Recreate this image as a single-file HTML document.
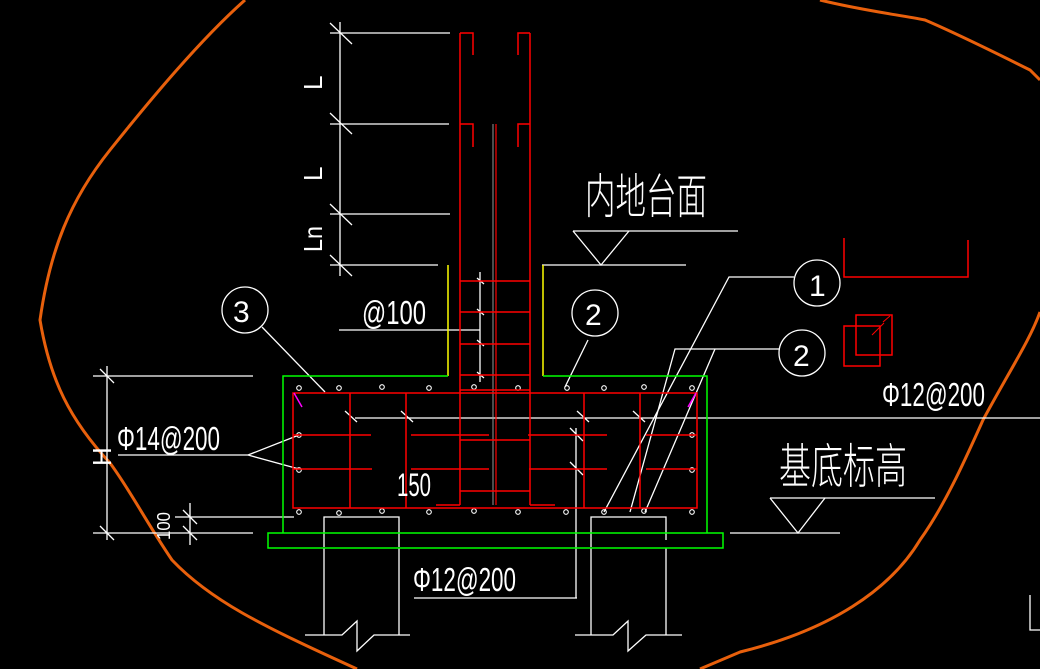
<!DOCTYPE html>
<html><head><style>html,body{margin:0;padding:0;background:#000;}svg{display:block}</style></head>
<body>
<svg width="1040" height="669" viewBox="0 0 1040 669" xmlns="http://www.w3.org/2000/svg" style="background:#000">
<path d="M245,0 C200,40 150,100 110,150 C70,200 50,250 40,320 C50,380 70,420 110,463 C130,490 145,520 172,560 C210,600 260,625 357,669" fill="none" stroke="#e8600c" stroke-width="3"/>
<path d="M820,0 C860,10 900,15 925,20 C960,35 1000,55 1030,70 L1040,80" fill="none" stroke="#e8600c" stroke-width="3"/>
<path d="M1040,312 C1030,340 1010,370 983,420 C965,460 945,505 920,540 C890,590 830,630 740,652 L700,669" fill="none" stroke="#e8600c" stroke-width="3"/>

<g stroke="#fff" stroke-width="1.3" fill="none">
<line x1="340" y1="22" x2="340" y2="276"/>
<line x1="330" y1="33" x2="450" y2="33"/>
<line x1="330" y1="124" x2="449" y2="124"/>
<line x1="330" y1="214" x2="450" y2="214"/>
<line x1="330" y1="265" x2="438" y2="265"/>
<path d="M330,23 L352,44 M330,113 L352,134 M330,204 L352,225 M330,255 L352,276"/>
<line x1="339" y1="330" x2="480" y2="330"/>
<line x1="480" y1="272" x2="480" y2="382"/>
<path d="M477,278 L484,284 M477,309 L484,315 M477,340 L484,346 M477,372 L484,378"/>
<line x1="573" y1="231" x2="738" y2="231"/>
<path d="M573,231 L601,265 L629,231"/>
<line x1="542" y1="265" x2="686" y2="265"/>
<line x1="770" y1="498" x2="935" y2="498"/>
<path d="M770,498 L798,533 L825,498"/>
<line x1="730" y1="533" x2="840" y2="533"/>
<line x1="355" y1="418" x2="1040" y2="418"/>
<circle cx="817" cy="283" r="23"/>
<circle cx="802" cy="353" r="23"/>
<circle cx="595" cy="313" r="23"/>
<circle cx="245" cy="310" r="23"/>
<path d="M794,277 L729,277 L604,512"/>
<path d="M779,349 L675,349 L630,512"/>
<path d="M715,349 L645,512"/>
<path d="M588,340 L565,387"/>
<path d="M262,327 L325,392"/>
<path d="M345,411 L357,422 M401,411 L413,422 M577,411 L589,422 M633,411 L645,422 M570,428 L583,441 M570,462 L583,475"/>
<line x1="576" y1="428" x2="576" y2="598"/>
<line x1="414" y1="598" x2="577" y2="598"/>
<line x1="107" y1="366" x2="107" y2="540"/>
<line x1="93" y1="376" x2="253" y2="376"/>
<line x1="93" y1="533" x2="253" y2="533"/>
<path d="M100,369 L114,383 M100,526 L114,540"/>
<line x1="190" y1="503" x2="190" y2="545"/>
<line x1="175" y1="517" x2="294" y2="517"/>
<path d="M183,510 L197,524 M183,526 L197,540"/>
<line x1="118" y1="455" x2="248" y2="455"/>
<path d="M248,455 L299,435 M248,455 L299,469"/>
<path d="M324,547 L324,517 L399,517 L399,547"/>
<path d="M324,548 L324,635 M399,548 L399,635"/>
<path d="M305,635 L342,635 L357,621 L357,651 L374,635 L410,635"/>
<path d="M591,547 L591,517 L666,517 L666,540"/>
<path d="M591,548 L591,635 M666,548 L666,635"/>
<path d="M575,635 L613,635 L628,621 L628,651 L646,635 L682,635"/>
<g stroke-width="1.1">
<circle cx="299" cy="388" r="2.3"/><circle cx="339" cy="388" r="2.3"/><circle cx="382" cy="387" r="2.3"/><circle cx="429" cy="388" r="2.3"/><circle cx="474" cy="387" r="2.3"/><circle cx="518" cy="388" r="2.3"/><circle cx="567" cy="388" r="2.3"/><circle cx="604" cy="388" r="2.3"/><circle cx="644" cy="387" r="2.3"/><circle cx="692" cy="388" r="2.3"/>
<circle cx="299" cy="512" r="2.3"/><circle cx="339" cy="513" r="2.3"/><circle cx="382" cy="511" r="2.3"/><circle cx="429" cy="512" r="2.3"/><circle cx="474" cy="511" r="2.3"/><circle cx="518" cy="512" r="2.3"/><circle cx="566" cy="512" r="2.3"/><circle cx="604" cy="512" r="2.3"/><circle cx="644" cy="511" r="2.3"/><circle cx="692" cy="512" r="2.3"/>
<circle cx="299" cy="435" r="2.3"/><circle cx="299" cy="470" r="2.3"/><circle cx="692" cy="435" r="2.3"/><circle cx="692" cy="470" r="2.3"/>
</g>
</g>
<line x1="493" y1="124" x2="493" y2="505" stroke="#999" stroke-width="1"/>

<g stroke="#ff0000" stroke-width="1.5" fill="none">
<line x1="460" y1="33" x2="460" y2="505"/>
<line x1="530" y1="33" x2="530" y2="505"/>
<path d="M460,33 L473,33 L473,55 M530,33 L518,33 L518,55 M460,124 L473,124 L473,147 M530,124 L518,124 L518,147"/>
<line x1="496" y1="124" x2="496" y2="505" stroke-width="1.2"/>
<path d="M460,281 L530,281 M460,312 L530,312 M460,344 L530,344 M460,375 L530,375 M460,390 L530,390 M460,440 L530,440 M460,491 L530,491"/>
<path d="M436,505 L460,505 M530,505 L555,505"/>
<rect x="293" y="393" width="404" height="115"/>
<path d="M350,393 L350,508 M406,393 L406,508 M584,393 L584,508 M640,393 L640,508"/>
<path d="M293,435 L371,435 M411,435 L489,435 M528,435 L607,435 M646,435 L697,435"/>
<path d="M293,469 L372,469 M411,469 L489,469 M529,469 L607,469 M646,469 L697,469"/>
<path d="M844,238 L844,277 L968,277 L968,240"/>
<rect x="844" y="326" width="36" height="40"/>
<rect x="856" y="315" width="36" height="40"/>
<path d="M872,335 L880,327 M876,331 L884,323 M883,322 L890,316" stroke-width="1"/>
</g>
<path d="M294,393 L302,407 M696,393 L688,407" stroke="#ff00ff" stroke-width="1.5"/>
<g stroke="#ffff00" stroke-width="1.5"><line x1="448" y1="265" x2="448" y2="376"/><line x1="543" y1="265" x2="543" y2="376"/></g>
<g stroke="#00ff00" stroke-width="1.5" fill="none">
<path d="M448,376 L283,376 L283,533"/>
<path d="M543,376 L707,376 L707,533"/>
<rect x="268" y="533" width="455" height="15"/>
</g>

<g fill="#fff" font-family="Liberation Sans, 'Noto Sans CJK SC', sans-serif" font-weight="normal">
<text x="0" y="0" font-size="26" transform="translate(322,90) rotate(-90)">L</text>
<text x="0" y="0" font-size="26" transform="translate(322,181) rotate(-90)">L</text>
<text x="0" y="0" font-size="26" transform="translate(322,252) rotate(-90)" textLength="26" lengthAdjust="spacingAndGlyphs">Ln</text>
<text x="0" y="0" font-size="26" transform="translate(111,466) rotate(-90)">H</text>
<text x="0" y="0" font-size="18" transform="translate(170,540) rotate(-90)" textLength="28" lengthAdjust="spacingAndGlyphs">100</text>
<text x="362" y="324" font-size="33" textLength="64" lengthAdjust="spacingAndGlyphs">@100</text>
<text x="117" y="450" font-size="33" textLength="103" lengthAdjust="spacingAndGlyphs">Φ14@200</text>
<text x="397" y="496" font-size="32" textLength="34" lengthAdjust="spacingAndGlyphs">150</text>
<text x="413" y="591" font-size="33" textLength="103" lengthAdjust="spacingAndGlyphs">Φ12@200</text>
<text x="882" y="406" font-size="33" textLength="103" lengthAdjust="spacingAndGlyphs">Φ12@200</text>
<text x="233" y="322" font-size="30">3</text>
<text x="585" y="325" font-size="30">2</text>
<text x="809" y="296" font-size="30">1</text>
<text x="793" y="366" font-size="30">2</text>
<text x="585" y="213" font-size="48" textLength="122" lengthAdjust="spacingAndGlyphs" font-family="'Noto Sans CJK SC', sans-serif" font-weight="300">内地台面</text>
<text x="779" y="483" font-size="48" textLength="128" lengthAdjust="spacingAndGlyphs" font-family="'Noto Sans CJK SC', sans-serif" font-weight="300">基底标高</text>
</g>
<path d="M1030,595 L1030,630 L1040,630" stroke="#fff" fill="none" stroke-width="1.3"/>
</svg>
</body></html>
